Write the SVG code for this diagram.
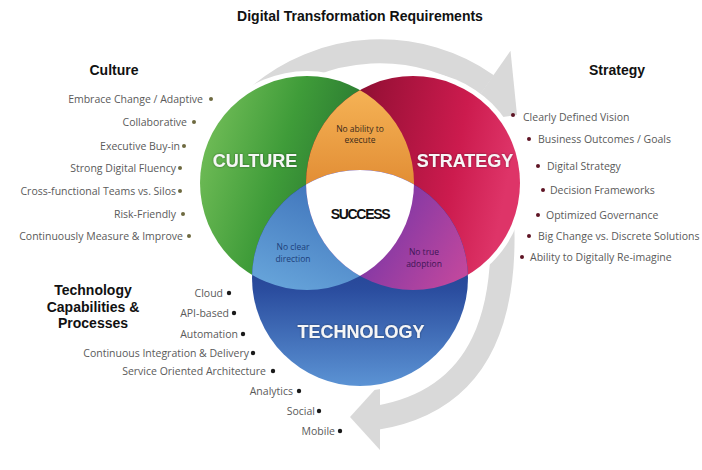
<svg xmlns="http://www.w3.org/2000/svg" width="702" height="470" viewBox="0 0 702 470">
<defs>
<style>
.title{font-family:"Liberation Sans",Arial,sans-serif;font-weight:bold;font-size:14px;fill:#111}
.head{font-family:"Liberation Sans",Arial,sans-serif;font-weight:bold;font-size:14px;fill:#111;text-anchor:middle}
.item{font-family:"Open Sans","DejaVu Sans",sans-serif;font-size:10.5px;fill:#5a5a5a}
.big{font-family:"Liberation Sans",Arial,sans-serif;font-weight:bold;font-size:18px;fill:#f6f6f6;text-anchor:middle}
.small{font-family:"Open Sans","DejaVu Sans",sans-serif;font-size:8.5px;text-anchor:middle}
.band{fill:none;stroke:#d9d9d9;stroke-width:24}
.halo{fill:#fff}
</style>
<linearGradient id="gG" x1="0" y1="0" x2="1" y2="0.3">
<stop offset="0" stop-color="#7cc45e"/><stop offset="0.45" stop-color="#3f9c39"/><stop offset="0.8" stop-color="#287530"/><stop offset="1" stop-color="#174c20"/>
</linearGradient>
<linearGradient id="gR" x1="0" y1="0" x2="1" y2="0.2">
<stop offset="0" stop-color="#5e0920"/><stop offset="0.35" stop-color="#9e1139"/><stop offset="0.75" stop-color="#cc1b4e"/><stop offset="1" stop-color="#de3468"/>
</linearGradient>
<linearGradient id="gB" x1="0" y1="0" x2="0" y2="1">
<stop offset="0" stop-color="#18236a"/><stop offset="0.55" stop-color="#2a4c9e"/><stop offset="1" stop-color="#5b93d4"/>
</linearGradient>
<linearGradient id="gO" x1="0" y1="0" x2="0" y2="1">
<stop offset="0" stop-color="#f8b85a"/><stop offset="0.55" stop-color="#e08a32"/><stop offset="1" stop-color="#9a5218"/>
</linearGradient>
<linearGradient id="gL" x1="0.6" y1="0" x2="0.2" y2="1">
<stop offset="0" stop-color="#3466b2"/><stop offset="1" stop-color="#82c6f0"/>
</linearGradient>
<linearGradient id="gP" x1="0" y1="0" x2="1" y2="0.6">
<stop offset="0" stop-color="#4e2583"/><stop offset="0.6" stop-color="#8a3aa4"/><stop offset="1" stop-color="#cc4a9c"/>
</linearGradient>
<clipPath id="cG"><circle cx="307" cy="183" r="107"/></clipPath>
<clipPath id="cR"><circle cx="413" cy="183" r="107"/></clipPath>
<clipPath id="cB"><circle cx="360" cy="278" r="108"/></clipPath>
<filter id="sh" x="-10%" y="-30%" width="120%" height="160%"><feDropShadow dx="0" dy="0" stdDeviation="1.2" flood-color="#000" flood-opacity="0.45"/></filter>
</defs>
<rect width="702" height="470" fill="#fff"/>
<text class="title" x="360" y="21" text-anchor="middle">Digital Transformation Requirements</text>

<g id="cycle-arrows">
<path class="band" d="M257.8,96.8 A187,187 0 0 1 487,85"/>
<polygon points="510.5,50.8 517,115 460,123" fill="#d9d9d9"/>
<path class="band" d="M500,190 C512,310 485,400 376,418"/>
<polygon points="350,417 380,384 380,450" fill="#d9d9d9"/>
</g>

<g id="halos">
<circle class="halo" cx="307" cy="183" r="112"/>
<circle class="halo" cx="413" cy="183" r="112"/>
<circle class="halo" cx="360" cy="278" r="113"/>
</g>

<g id="culture">
<circle cx="307" cy="183" r="107" fill="url(#gG)"/>
<text class="big" x="255" y="167" filter="url(#sh)">CULTURE</text>
</g>
<g id="strategy">
<circle cx="413" cy="183" r="107" fill="url(#gR)"/>
<text class="big" x="465" y="167" filter="url(#sh)">STRATEGY</text>
</g>
<g id="technology">
<circle cx="360" cy="278" r="108" fill="url(#gB)"/>
<text class="big" x="361" y="338" filter="url(#sh)">TECHNOLOGY</text>
</g>
<g id="no-ability-to-execute">
<g clip-path="url(#cG)"><circle cx="413" cy="183" r="107" fill="url(#gO)"/></g>
<text class="small" x="360" y="132" fill="#3a2a1a"><tspan x="360">No ability to</tspan><tspan x="360" dy="11">execute</tspan></text>
</g>
<g id="no-clear-direction">
<g clip-path="url(#cG)"><circle cx="360" cy="278" r="108" fill="url(#gL)"/></g>
<text class="small" x="293" y="250" fill="#1d3f7a"><tspan x="293">No clear</tspan><tspan x="293" dy="12">direction</tspan></text>
</g>
<g id="no-true-adoption">
<g clip-path="url(#cR)"><circle cx="360" cy="278" r="108" fill="url(#gP)"/></g>
<text class="small" x="424" y="255" fill="#3e1656"><tspan x="424">No true</tspan><tspan x="424" dy="12">adoption</tspan></text>
</g>
<g id="success">
<g clip-path="url(#cG)"><g clip-path="url(#cR)"><circle cx="360" cy="278" r="108" fill="#fff"/></g></g>
<text x="360" y="219" text-anchor="middle" style="font-family:'Liberation Sans',Arial,sans-serif;font-weight:bold;font-size:14px;letter-spacing:-1.3px;fill:#111">SUCCESS</text>
</g>

<g id="culture-list">
<text class="head" x="114" y="75">Culture</text>
<g class="item" text-anchor="end">
<text x="203" y="102.5">Embrace Change / Adaptive</text>
<text x="187" y="125.5">Collaborative</text>
<text x="180" y="149.5">Executive Buy-in</text>
<text x="176" y="171.5">Strong Digital Fluency</text>
<text x="176" y="194.5">Cross-functional Teams vs. Silos</text>
<text x="176" y="217.5">Risk-Friendly</text>
<text x="183" y="239.5">Continuously Measure &amp; Improve</text>
</g>
<g fill="#6e6a40">
<circle cx="211" cy="99" r="2"/><circle cx="194" cy="122" r="2"/><circle cx="184" cy="146" r="2"/><circle cx="180" cy="168" r="2"/><circle cx="180" cy="191" r="2"/><circle cx="183" cy="214" r="2"/><circle cx="189" cy="236" r="2"/>
</g>
</g>

<g id="strategy-list">
<text class="head" x="617" y="75">Strategy</text>
<g class="item">
<text x="523" y="120.5">Clearly Defined Vision</text>
<text x="538" y="142.5">Business Outcomes / Goals</text>
<text x="547" y="169.5">Digital Strategy</text>
<text x="550" y="193.5">Decision Frameworks</text>
<text x="546" y="218.5">Optimized Governance</text>
<text x="538" y="239.5">Big Change vs. Discrete Solutions</text>
<text x="530" y="260.5">Ability to Digitally Re-imagine</text>
</g>
<g fill="#5e1424">
<circle cx="513" cy="115" r="2"/><circle cx="529" cy="139" r="2"/><circle cx="538" cy="166" r="2"/><circle cx="543" cy="190" r="2"/><circle cx="538" cy="215" r="2"/><circle cx="529" cy="236" r="2"/><circle cx="522" cy="257" r="2"/>
</g>
</g>

<g id="technology-list">
<text class="head" x="93" y="295"><tspan x="93">Technology</tspan><tspan x="93" dy="16.5">Capabilities &amp;</tspan><tspan x="93" dy="16.5">Processes</tspan></text>
<g class="item" text-anchor="end">
<text x="223" y="296.5">Cloud</text>
<text x="229" y="316.5">API-based</text>
<text x="238" y="337.5">Automation</text>
<text x="249" y="356.5">Continuous Integration &amp; Delivery</text>
<text x="266" y="374.5">Service Oriented Architecture</text>
<text x="293" y="394.5">Analytics</text>
<text x="315" y="414.5">Social</text>
<text x="335" y="434.5">Mobile</text>
</g>
<g fill="#1a1a1a">
<circle cx="229" cy="293" r="2.2"/><circle cx="234" cy="313" r="2.2"/><circle cx="243" cy="334" r="2.2"/><circle cx="253" cy="353" r="2.2"/><circle cx="273" cy="371" r="2.2"/><circle cx="299" cy="391" r="2.2"/><circle cx="319" cy="411" r="2.2"/><circle cx="340" cy="431" r="2.2"/>
</g>
</g>
</svg>
